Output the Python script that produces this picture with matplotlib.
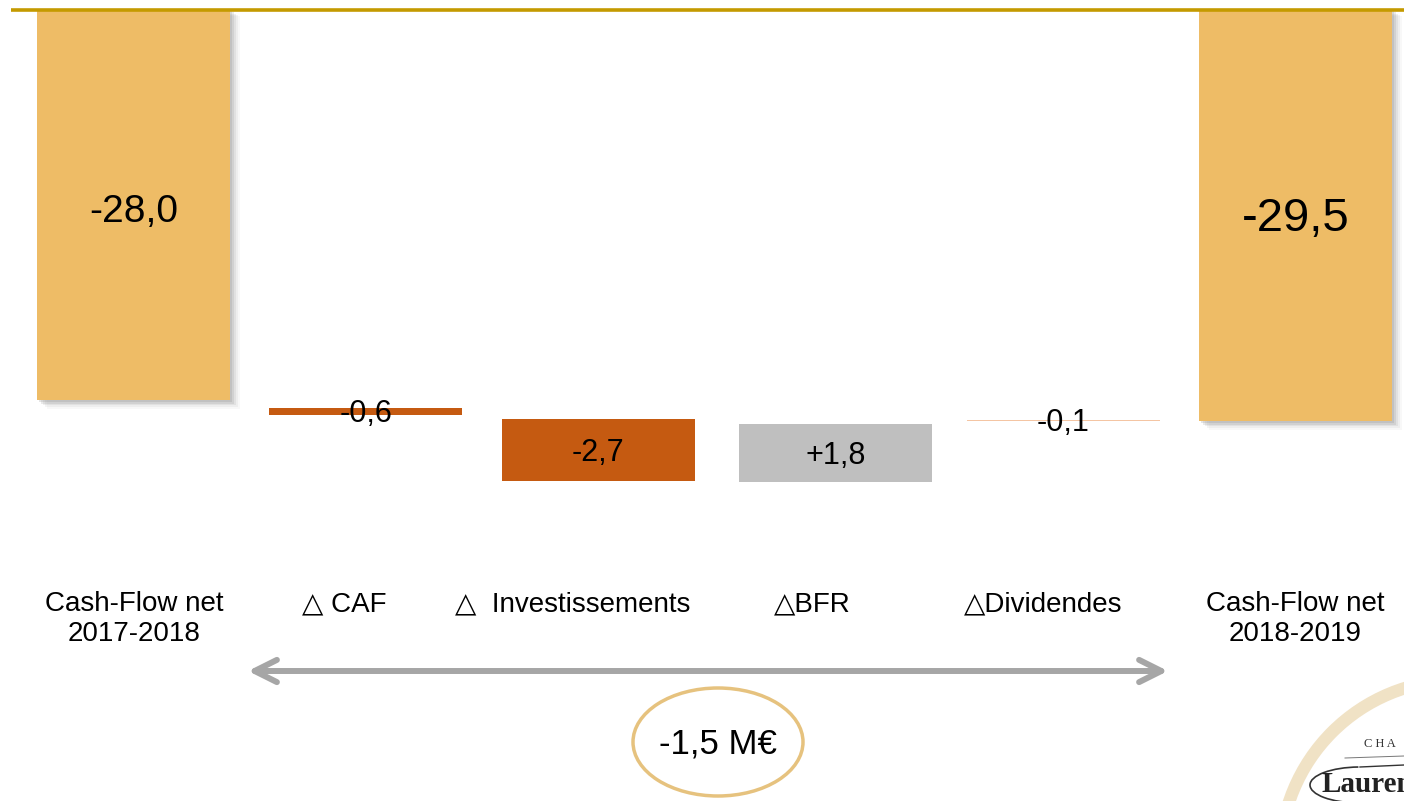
import matplotlib
matplotlib.use("Agg")
import matplotlib.pyplot as plt
from matplotlib.patches import Rectangle, Ellipse, Circle, Arc
import numpy as np

plt.rcParams["font.family"] = ["Liberation Sans Narrow", "Liberation Sans", "DejaVu Sans"]

# ── data (M€) ────────────────────────────────────────────────────────────────
categories = ["Cash-Flow net\n2017-2018", "\u25b3 CAF", "\u25b3  Investissements",
              "\u25b3BFR", "\u25b3Dividendes", "Cash-Flow net\n2018-2019"]
value_labels = ["-28,0", "-0,6", "-2,7", "+1,8", "-0,1", "-29,5"]
# bar extents as drawn on the slide (top / bottom level)
bar_top    = [0.0, -28.55, -29.35, -29.70, -29.40, 0.0]
bar_bottom = [-28.0, -29.05, -33.80, -33.90, -29.50, -29.5]
bar_colors = ["#EEBC66", "#C55A11", "#C55A11", "#BFBFBF", "#F4C5A3", "#EEBC66"]
total_label = "-1,5 M\u20ac"

W, H = 1404, 801
fig = plt.figure(figsize=(W / 100, H / 100), dpi=100)

# main axes: category index on x, M€ on y
PX_STEP = 232.4       # px per category
PX_UNIT = 13.93       # px per M€
X0, Y0 = 133.5, 10.0  # pixel of category 0 / value 0
ax = fig.add_axes([0, 0, 1, 1])
ax.set_xlim((0 - X0) / PX_STEP, (W - X0) / PX_STEP)
ax.set_ylim((Y0 - H) / PX_UNIT, (Y0 - 0) / PX_UNIT)
ax.axis("off")

xpos = [0, 1, 2, 3.02, 4, 5]
bw = 193 / PX_STEP
for i, (top, bot, col) in enumerate(zip(bar_top, bar_bottom, bar_colors)):
    x = xpos[i]
    if i in (0, 5):
        # soft drop shadow
        for k, a in zip([10, 8, 6, 4, 2], [0.06, 0.09, 0.13, 0.18, 0.22]):
            dx = k / PX_STEP
            dy = k / PX_UNIT
            ax.add_patch(Rectangle((x - bw / 2 + dx, bot - dy * 0.9), bw,
                                   (top - dy * 0.6) - (bot - dy * 0.9),
                                   facecolor="#8c8c8c", edgecolor="none",
                                   alpha=a, zorder=1))
    ax.add_patch(Rectangle((x - bw / 2, bot), bw, top - bot,
                           facecolor=col, edgecolor="none", zorder=2))

label_size = [28, 22, 22, 22, 22, 34]
label_dpx = [7, 3, 3, 3, 3, 4]   # nudge down, pixels
for i, (lab, top, bot) in enumerate(zip(value_labels, bar_top, bar_bottom)):
    ax.text(xpos[i], (top + bot) / 2 - label_dpx[i] / PX_UNIT, lab,
            ha="center", va="center", fontsize=label_size[i], color="black", zorder=3)

# overlay axes in pixel coordinates for slide decorations
ov = fig.add_axes([0, 0, 1, 1], facecolor="none")
ov.set_xlim(0, W)
ov.set_ylim(H, 0)
ov.axis("off")

# gold rule at the top
ov.plot([11, W], [9.5, 9.5], color="#C49A00", linewidth=2.6, solid_capstyle="butt", zorder=5)

# category labels
cat_x = [134, 344, 573, 812, 1043, 1295]
for x, lab in zip(cat_x, categories):
    ov.text(x, 591, lab, ha="center", va="top", fontsize=20, linespacing=1.2,
            family=["Liberation Sans Narrow", "Liberation Sans", "DejaVu Sans"])

# double arrow
ov.annotate("", xy=(248, 671), xytext=(1168, 671),
            arrowprops=dict(arrowstyle="<->,head_length=1.6,head_width=0.8",
                            color="#A6A6A6", linewidth=4.3,
                            capstyle="round", joinstyle="round",
                            shrinkA=0, shrinkB=0))

# ellipse with total change
ov.add_patch(Ellipse((718, 742), 170, 108, facecolor="white",
                     edgecolor="#E6C27E", linewidth=2.5, zorder=4))
ov.text(718, 744, total_label, ha="center", va="center", fontsize=25, zorder=5)

# partial logo in the corner
ov.add_patch(Circle((1458, 858), 178, facecolor="none", edgecolor="#EEDDBB",
                    linewidth=9, alpha=0.85, zorder=3))
ov.text(1364, 744, "C H A", fontsize=9, family=["Liberation Serif", "DejaVu Serif"],
        ha="left", va="center", color="#333333")
ov.text(1322, 785, "Lauren", fontsize=21, fontweight="bold",
        family=["Liberation Serif", "DejaVu Serif"], ha="left", va="center", color="#222222")
ov.add_patch(Arc((1360, 785), 100, 36, theta1=95, theta2=265, color="#333333", linewidth=1.2))
ov.plot([1360, 1404], [767, 765], color="#333333", linewidth=1.0)
ov.plot([1345, 1404], [758, 756], color="#777777", linewidth=0.7)

fig.savefig("out.png", dpi=100)
